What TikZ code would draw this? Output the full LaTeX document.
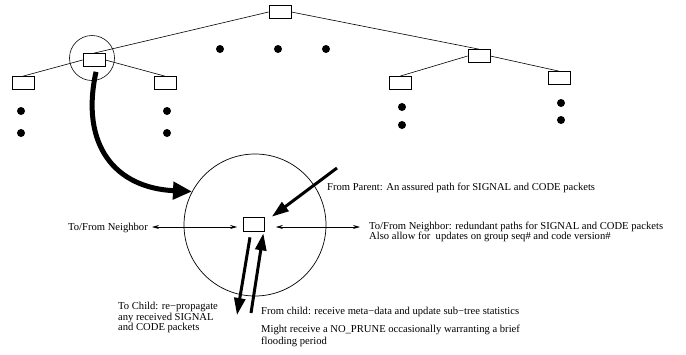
\documentclass[tikz,border=0pt]{standalone}
\usepackage{fontspec}
\setmainfont{Liberation Serif}
\usetikzlibrary{arrows.meta}

\tikzset{
  treebox/.style={draw, line width=0.7pt, minimum width=22pt, minimum height=13pt, inner sep=0pt},
  treedot/.style={circle, fill=black, inner sep=0pt, minimum size=8pt},
  treeline/.style={line width=0.6pt},
  thickarrow/.style={line width=3pt, -{Triangle[length=17pt,width=11pt]}},
  bigarrow/.style={line width=5pt, -{Triangle[length=19pt,width=17pt]}},
  nbrarrow/.style={line width=0.8pt, {Stealth[length=7pt,width=4pt]}-{Stealth[length=7pt,width=4pt]}},
  lbl/.style={font=\fontsize{10.6}{10.5}\selectfont, inner sep=0pt, align=left}
}

\begin{document}
\begin{tikzpicture}[x=1pt,y=-1pt]
\useasboundingbox (0,0) rectangle (686,354);

% Tree
\node[treebox] (root) at (280,12) {};
\node[treebox] (lc)   at (94,60) {};
\node[treebox] (rc)   at (479,56) {};
\node[treebox] (lcl)  at (23,83) {};
\node[treebox] (lcr)  at (165,83) {};
\node[treebox] (rcl)  at (400,83) {};
\node[treebox] (rcr)  at (559,78) {};
\draw[treeline] (root.west) -- (lc.north);
\draw[treeline] (root.east) -- (rc.north);
\draw[treeline] (lc.west) -- (lcl.north);
\draw[treeline] (lc.east) -- (lcr.north);
\draw[treeline] (rc.west) -- (rcl.north);
\draw[treeline] (rc.east) -- (rcr.north);

% Dots for omitted subtrees
\foreach \x/\y [count=\i] in {220/49, 278/49, 326/49, 21/111, 21/133, 167/111, 167/133,
                               402/107, 402/125, 561/103, 561/120}{
  \node[treedot] (dot\i) at (\x,\y) {};
}

% Zoom onto one node
\node[circle, draw, line width=0.6pt, minimum size=45pt] (lcring) at (92,58) {};
\node[circle, draw, line width=0.7pt, minimum size=142pt] (zoomring) at (255,225) {};
\node[treebox, minimum width=21pt, minimum height=14pt] (node) at (254,224) {};
\draw[bigarrow] ([shift={(2,5)}]lc.south) .. controls (80,145) and (115,188) .. (zoomring.152);

% Links of the node
\coordinate (fromparent) at (337,168);
\coordinate (leftnbr)    at (152,227);
\coordinate (rightnbr)   at (360,227);
\coordinate (tochild)    at (237,315);
\coordinate (fromchild)  at (251,313);
\draw[thickarrow] (fromparent) -- ([shift={(7,0)}]node.north east);
\draw[nbrarrow] (leftnbr) -- ([shift={(-6,3)}]node.west);
\draw[nbrarrow] ([shift={(11,3)}]node.east) -- (rightnbr);
\draw[thickarrow] ([shift={(-4,6)}]node.south) -- (tochild);
\draw[thickarrow] (fromchild) -- ([shift={(-1.5,2)}]node.south east);

% Labels
\node[lbl, anchor=west] (parentlbl) at (327,188) {From Parent: An assured path for SIGNAL and CODE packets};
\node[lbl, anchor=east] (leftlbl) at (148,228) {To/From Neighbor};
\node[lbl, anchor=west] (rightlbl) at (369,232)
  {To/From Neighbor: redundant paths for SIGNAL and CODE packets\\Also allow for~ updates on group seq\# and code version\#};
\node[lbl, anchor=west] (tochildlbl) at (118,317.5)
  {To Child: re−propagate\\any received SIGNAL\\and CODE packets};
\node[lbl, anchor=west] (fromchildlbl) at (261,312) {From child: receive meta−data and update sub−tree statistics};
\node[lbl, anchor=west, font=\fontsize{10.6}{12}\selectfont] (prunelbl) at (261,336)
  {Might receive a NO\_PRUNE occasionally warranting a brief\\flooding period};
\end{tikzpicture}
\end{document}
